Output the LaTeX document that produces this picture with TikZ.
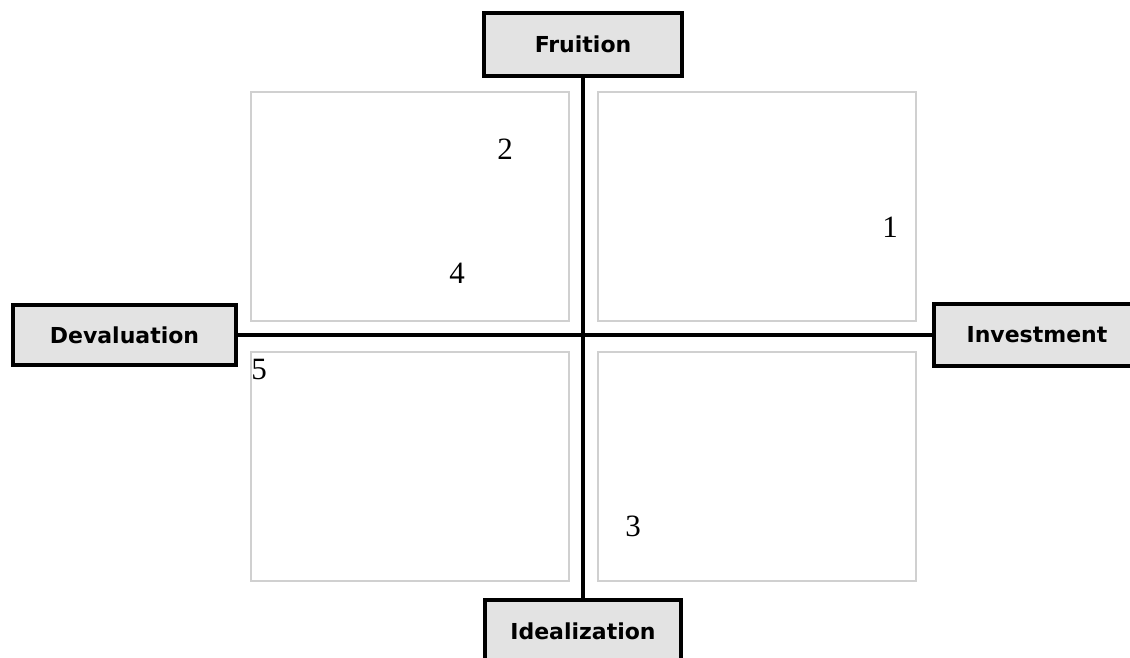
\documentclass[tikz,border=0pt]{standalone}
\usepackage{fontspec}
\setmainfont{Liberation Serif}
\newfontfamily\labelfont{DejaVu Sans}
\definecolor{boxfill}{HTML}{E3E3E3}
\definecolor{quadline}{HTML}{D0D0D0}
\begin{document}
\begin{tikzpicture}[x=1pt,y=-1pt,
  axisbox/.style={draw=black,line width=4pt,fill=boxfill,inner sep=0pt,
    font=\labelfont\bfseries\fontsize{22}{25}\selectfont,anchor=center},
  quad/.style={draw=quadline,line width=2pt},
  axis/.style={draw=black,line width=4pt},
  num/.style={font=\fontsize{31}{34}\selectfont,inner sep=0pt,anchor=center}]
\useasboundingbox (0,0) rectangle (1130,657);
% quadrant frames
\draw[quad] (251,92) rectangle (569,321);
\draw[quad] (598,92) rectangle (916,321);
\draw[quad] (251,352) rectangle (569,581);
\draw[quad] (598,352) rectangle (916,581);
% axis boxes
\node[axisbox,minimum width=198pt,minimum height=63pt] (fru) at (583,44.5) {Fruition};
\node[axisbox,minimum width=196pt,minimum height=62pt] (ide) at (583,631) {Idealization};
\node[axisbox,minimum width=223pt,minimum height=60pt] (dev) at (124.5,335) {Devaluation};
\node[axisbox,minimum width=206pt,minimum height=62pt] (inv) at (1037,335) {Investment};
% axes
\draw[axis] (fru.south) -- (ide.north);
\draw[axis] (dev.east) -- (inv.west);
% numbers
\node[num] (n1) at (890,227) {1};
\node[num] (n2) at (505,149) {2};
\node[num] (n3) at (633,526) {3};
\node[num] (n4) at (457,273) {4};
\node[num] (n5) at (259,369) {5};
\end{tikzpicture}
\end{document}
